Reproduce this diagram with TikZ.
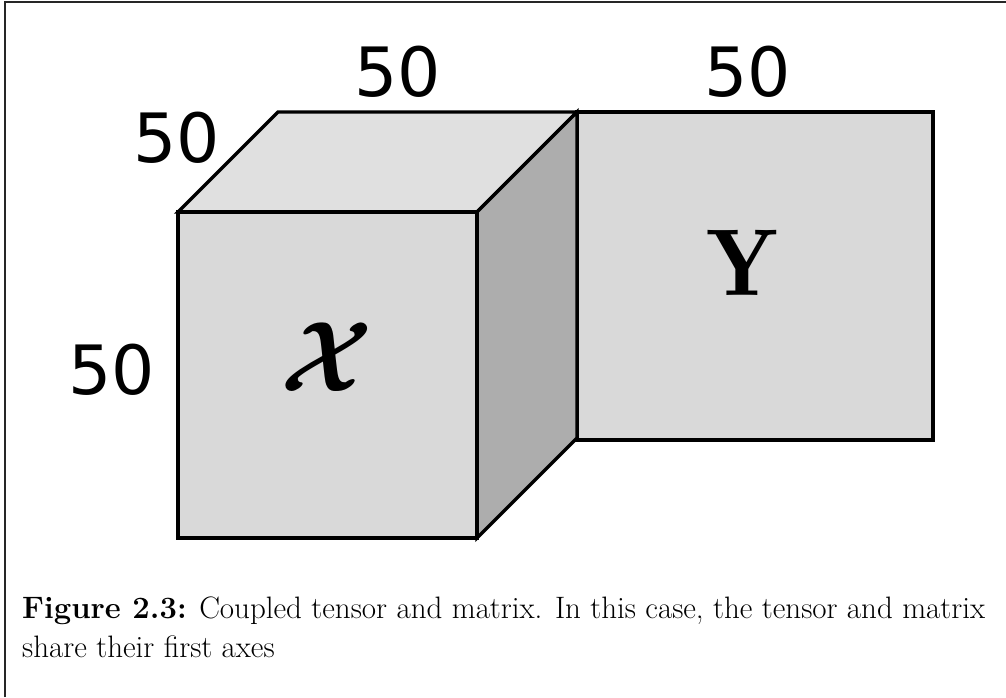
\documentclass[tikz,border=0pt]{standalone}
\usepackage{fontspec}
\usepackage{amsmath}
\usepackage{graphicx}
\newfontfamily\numfont{DejaVu Sans}
\begin{document}
\begin{tikzpicture}[x=1pt,y=-1pt,
  edge/.style={draw=black,line width=3.4pt,line join=miter},
  dimlabel/.style={font=\fontsize{68}{68}\selectfont\numfont,inner sep=0pt}]
\useasboundingbox (0,0) rectangle (1006,697);
\fill[white] (0,0) rectangle (1006,697);
\draw[line width=2pt,black!85] (5,697) -- (5,2) -- (1006,2);
% matrix Y
\path[edge,fill=black!15] (577,112) rectangle (933,440);
% cube faces
\path[edge,fill=black!12] (178,212) -- (278,112) -- (577,112) -- (477,212) -- cycle;
\path[edge,fill=black!32] (477,212) -- (577,112) -- (577,438) -- (477,538) -- cycle;
\path[edge,fill=black!15] (178,212) rectangle (477,538);
\node (X) at (327,357) {\scalebox{9.6}[10]{$\boldsymbol{\mathcal{X}}$}};
\node (Y) at (742,263) {\fontsize{95}{95}\selectfont$\mathbf{Y}$};
\node[dimlabel] (d1) at (398,72) {50};
\node[dimlabel] (d2) at (748,72) {50};
\node[dimlabel] (d3) at (177,138) {50};
\node[dimlabel] (d4) at (112,370) {50};
\node[anchor=north west,inner sep=0pt,text width=963pt,align=justify] (cap) at (22,597)
  {\fontsize{31}{39}\selectfont\textbf{Figure 2.3:} Coupled tensor and matrix. In this case, the tensor and matrix share their first axes\par};
\end{tikzpicture}
\end{document}
